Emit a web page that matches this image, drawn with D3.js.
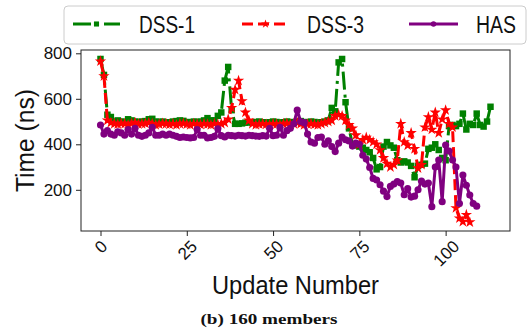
<!DOCTYPE html>
<html>
<head>
<meta charset="utf-8">
<script src="https://cdn.jsdelivr.net/npm/d3@7"></script>
<style>
  html, body { margin: 0; padding: 0; background: #fff; }
  svg { display: block; }
</style>
</head>
<body>
<div id="chart"></div>
<script>
const seriesNames = ["DSS-1", "DSS-3", "HAS"];

const dss1 = [
  775, 705, 530, 520, 500, 505, 500, 498, 510, 505,
  500, 498, 500, 502, 510, 512, 500, 498, 500, 495,
  497, 500, 502, 505, 503, 498, 497, 500, 498, 500,
  505, 515, 505, 505, 525, 540, 680, 740, 550, 490,
  490, 492, 495, 497, 495, 498, 500, 497, 495, 497,
  500, 498, 495, 497, 500, 498, 495, 500, 502, 498,
  497, 500, 498, 495, 497, 500, 505, 560, 545, 760,
  775, 585, 470, 400, 395, 390, 385, 375, 365, 340,
  290, 300, 390, 410, 395, 385, 330, 320, 325, 320,
  305, 255, 305, 310, 315, 380, 385, 400, 375, 340,
  330, 480, 485, 480, 490, 535, 465, 490, 485, 535,
  485, 478, 500, 565
];

const dss3 = [
  765, 700, 505, 495, 490, 488, 492, 490, 485, 492,
  495, 488, 490, 492, 495, 490, 485, 488, 492, 490,
  487, 490, 485, 490, 492, 488, 485, 490, 488, 486,
  490, 488, 485, 490, 488, 490, 495, 510, 560, 640,
  680, 590, 540, 505, 490, 485, 488, 490, 487, 485,
  490, 488, 485, 490, 492, 488, 490, 495, 490, 485,
  488, 490, 487, 485, 490, 495, 500, 505, 525, 530,
  525, 505, 485, 470, 440, 400, 420, 430, 420, 410,
  400, 375, 340, 315, 300, 310, 330, 490, 410, 395,
  450, 380, 295, 310, 475, 520, 465, 540, 450, 510,
  550, 490, 475, 120, 75, 60, 90, 58
];

const has = [
  485, 445, 460, 445, 440, 455, 450, 440, 465, 445,
  470, 440, 435, 440, 450, 475, 440, 440, 445, 440,
  445, 440, 435, 430, 432, 430, 428, 430, 465, 440,
  440, 428, 430, 435, 468, 438, 432, 440, 438, 436,
  440, 438, 436, 440, 438, 436, 435, 438, 436, 470,
  438, 440, 475, 440, 460, 470, 490, 550, 500, 495,
  445, 410, 405, 430, 432, 400, 415, 390, 368, 405,
  432, 420, 415, 392, 405, 400, 352, 335, 298, 250,
  243, 222, 194, 170, 215, 225, 236, 230, 178, 205,
  168, 172, 200, 238, 225, 230, 126, 300, 331, 148,
  397, 370, 331, 300, 140, 265, 220, 177, 140, 128
];

const xTicks = [0, 25, 50, 75, 100];
const yTicks = [200, 400, 600, 800];

const W = 531, H = 333;
const svg = d3.select("#chart").append("svg").attr("width", W).attr("height", H);

const plot = { left: 81, right: 510, top: 50, bottom: 231 };

const x = d3.scaleLinear().domain([-5.65, 118.65]).range([plot.left, plot.right]);
const y = d3.scaleLinear().domain([18.9, 814.5]).range([plot.bottom, plot.top]);

const sans = "'Liberation Sans', Arial, sans-serif";

svg.append("defs").append("clipPath").attr("id", "clip")
  .append("rect").attr("x", plot.left).attr("y", plot.top)
  .attr("width", plot.right - plot.left).attr("height", plot.bottom - plot.top);

const series = [
  { name: seriesNames[0], data: dss1, color: "green", dash: "18,5,3,5", symbol: d3.symbolSquare, size: 42, lsize: 26 },
  { name: seriesNames[1], data: dss3, color: "red", dash: "11,5", symbol: d3.symbolStar, size: 40, lsize: 24 },
  { name: seriesNames[2], data: has, color: "purple", dash: null, symbol: d3.symbolCircle, size: 40, lsize: 24 }
];

const line = d3.line().x((d, i) => x(i)).y(d => y(d));
const g = svg.append("g").attr("clip-path", "url(#clip)");

series.forEach(s => {
  const gs = g.append("g");
  gs.append("path").datum(s.data)
    .attr("d", line)
    .attr("fill", "none")
    .attr("stroke", s.color)
    .attr("stroke-width", 3)
    .attr("stroke-dasharray", s.dash)
    .attr("stroke-linejoin", "round");
  gs.selectAll("path.m").data(s.data).join("path")
    .attr("class", "m")
    .attr("transform", (d, i) => `translate(${x(i)},${y(d)})`)
    .attr("d", d3.symbol().type(s.symbol).size(s.size))
    .attr("fill", s.color);
});

svg.append("rect")
  .attr("x", plot.left).attr("y", plot.top)
  .attr("width", plot.right - plot.left).attr("height", plot.bottom - plot.top)
  .attr("fill", "none").attr("stroke", "#222").attr("stroke-width", 1);

const yAxis = d3.axisLeft(y).tickValues(yTicks).tickSize(5).tickPadding(4);
const ya = svg.append("g").attr("transform", `translate(${plot.left},0)`).call(yAxis);
ya.select(".domain").remove();
ya.selectAll("line").attr("stroke", "#222");
ya.selectAll("text").attr("font-family", sans).attr("font-size", 17).attr("fill", "#111");

const xAxis = d3.axisBottom(x).tickValues(xTicks).tickSize(5).tickFormat(d3.format("d"));
const xa = svg.append("g").attr("transform", `translate(0,${plot.bottom})`).call(xAxis);
xa.select(".domain").remove();
xa.selectAll("line").attr("stroke", "#222");
xa.selectAll("text")
  .attr("font-family", sans).attr("font-size", 17).attr("fill", "#111")
  .attr("text-anchor", "middle")
  .attr("dy", "0.35em")
  .attr("y", 0)
  .each(function(d) {
    const w = this.getComputedTextLength();
    const ch = 12;
    const bb = (w + ch) / Math.SQRT2;
    const cy = 8 + bb / 2;
    d3.select(this).attr("transform", `translate(0,${cy}) rotate(-45)`);
  });

svg.append("text")
  .attr("x", (plot.left + plot.right) / 2).attr("y", 294)
  .attr("text-anchor", "middle")
  .attr("font-family", sans).attr("font-size", 26).attr("fill", "#111")
  .attr("textLength", 167).attr("lengthAdjust", "spacingAndGlyphs")
  .text("Update Number");

svg.append("text")
  .attr("transform", `translate(33.5,${(plot.top + plot.bottom) / 2}) rotate(-90)`)
  .attr("text-anchor", "middle")
  .attr("font-family", sans).attr("font-size", 26).attr("fill", "#111")
  .attr("textLength", 103).attr("lengthAdjust", "spacingAndGlyphs")
  .text("Time (ns)");

svg.append("text")
  .attr("x", 269).attr("y", 324)
  .attr("text-anchor", "middle")
  .attr("font-family", "'Liberation Serif', 'DejaVu Serif', serif")
  .attr("font-weight", "bold").attr("font-size", 15).attr("fill", "#111")
  .attr("textLength", 137).attr("lengthAdjust", "spacingAndGlyphs")
  .text("(b) 160 members");

const lg = svg.append("g");
lg.append("rect")
  .attr("x", 64).attr("y", 6).attr("width", 462).attr("height", 38)
  .attr("rx", 4).attr("ry", 4)
  .attr("fill", "#fff").attr("fill-opacity", 0.85)
  .attr("stroke", "#ccc").attr("stroke-width", 1);

const legendItems = [
  { x0: 73, x1: 120, tx: 139, tw: 56 },
  { x0: 242, x1: 289, tx: 307, tw: 57 },
  { x0: 409, x1: 458, tx: 476, tw: 40 }
];
series.forEach((s, k) => {
  const it = legendItems[k];
  lg.append("line")
    .attr("x1", it.x0).attr("x2", it.x1).attr("y1", 24).attr("y2", 24)
    .attr("stroke", s.color).attr("stroke-width", 3)
    .attr("stroke-dasharray", s.dash);
  lg.append("path")
    .attr("transform", `translate(${(it.x0 + it.x1) / 2},24)`)
    .attr("d", d3.symbol().type(s.symbol).size(s.lsize))
    .attr("fill", s.color);
  lg.append("text")
    .attr("x", it.tx).attr("y", 33)
    .attr("font-family", sans).attr("font-size", 23).attr("fill", "#111")
    .attr("textLength", it.tw).attr("lengthAdjust", "spacingAndGlyphs")
    .text(s.name);
});
</script>
</body>
</html>
